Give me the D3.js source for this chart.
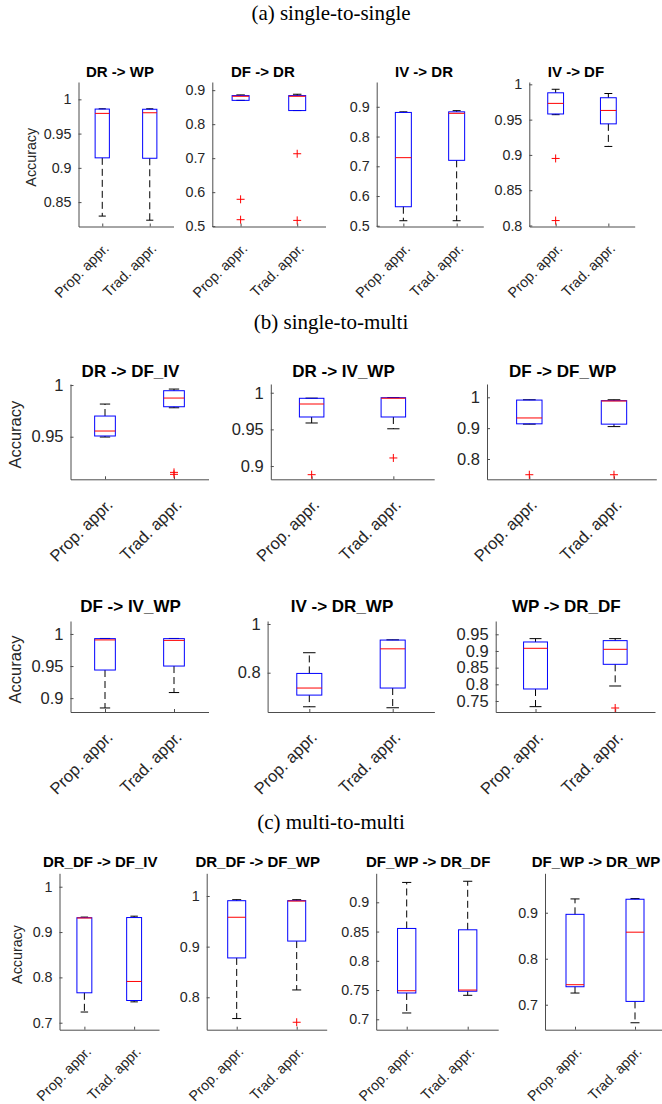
<!DOCTYPE html>
<html>
<head>
<meta charset="utf-8">
<script src="https://cdn.jsdelivr.net/npm/d3@7"></script>
<style>
  html, body { margin: 0; padding: 0; background: #fff; }
  svg { display: block; }
</style>
</head>
<body>
<script>
// ---------------- DATA ----------------
const sectionTitles = ["(a) single-to-single", "(b) single-to-multi", "(c) multi-to-multi"];
const categories = ["Prop. appr.", "Trad. appr."];
const panelTitles = ["DR -> WP", "DF -> DR", "IV -> DR", "IV -> DF",
  "DR -> DF_IV", "DR -> IV_WP", "DF -> DF_WP",
  "DF -> IV_WP", "IV -> DR_WP", "WP -> DR_DF",
  "DR_DF -> DF_IV", "DR_DF -> DF_WP", "DF_WP -> DR_DF", "DF_WP -> DR_WP"];
const yLabel = "Accuracy";

// [lower whisker, Q1, median, Q3, upper whisker]
const propStats = [
  [0.8296, 0.9146, 0.9795, 0.9858, 0.9862],
  [0.870, 0.870, 0.882, 0.884, 0.886],
  [0.517, 0.564, 0.729, 0.881, 0.883],
  [0.957, 0.958, 0.973, 0.988, 0.993],
  [0.9497, 0.9507, 0.9555, 0.970, 0.9816],
  [0.9587, 0.9669, 0.9846, 0.9924, 0.9926],
  [0.913, 0.914, 0.933, 0.991, 0.992],
  [0.8847, 0.9438, 0.9907, 0.9927, 0.993],
  [0.660, 0.708, 0.737, 0.797, 0.882],
  [0.733, 0.786, 0.908, 0.927, 0.937],
  [0.7236, 0.766, 0.931, 0.9316, 0.933],
  [0.758, 0.8777, 0.958, 0.9907, 0.9927],
  [0.7108, 0.745, 0.7488, 0.8553, 0.934],
  [0.7254, 0.7391, 0.7435, 0.8965, 0.930]
];
const tradStats = [
  [0.8236, 0.914, 0.9804, 0.9855, 0.9862],
  [0.840, 0.840, 0.882, 0.884, 0.888],
  [0.517, 0.720, 0.878, 0.883, 0.887],
  [0.912, 0.944, 0.963, 0.981, 0.987],
  [0.978, 0.979, 0.9874, 0.9945, 0.9961],
  [0.9508, 0.9669, 0.9925, 0.9932, 0.9934],
  [0.905, 0.913, 0.988, 0.989, 0.992],
  [0.9087, 0.950, 0.990, 0.9927, 0.993],
  [0.656, 0.737, 0.898, 0.934, 0.935],
  [0.795, 0.860, 0.905, 0.931, 0.937],
  [0.746, 0.749, 0.791, 0.932, 0.935],
  [0.8145, 0.911, 0.990, 0.9908, 0.9927],
  [0.741, 0.748, 0.750, 0.853, 0.936],
  [0.6608, 0.7072, 0.8577, 0.9293, 0.9307]
];
const propOutliers = [[], [0.579, 0.519], [], [0.895, 0.807], [], [0.8882], [0.749], [], [], [], [], [], [], []];
const tradOutliers = [[], [0.713, 0.517], [], [], [0.9155, 0.9136], [0.911], [0.749], [], [], [0.729], [], [0.7507], [], []];

// y-axis limits and tick values per panel
const yLimits = [
  [0.8144, 1.0253], [0.499, 0.924], [0.4976, 0.9833], [0.7986, 1.0033],
  [0.9088, 1.001], [0.8819, 1.0119], [0.7342, 1.0431],
  [0.8784, 1.0202], [0.6386, 1.0123], [0.717, 0.9899],
  [0.6846, 1.0296], [0.736, 1.0448], [0.6822, 0.9496], [0.6457, 0.9857]
];
const yTicks = [
  [0.85, 0.9, 0.95, 1], [0.5, 0.6, 0.7, 0.8, 0.9], [0.5, 0.6, 0.7, 0.8, 0.9], [0.8, 0.85, 0.9, 0.95, 1],
  [0.95, 1], [0.9, 0.95, 1], [0.8, 0.9, 1],
  [0.9, 0.95, 1], [0.8, 1], [0.75, 0.8, 0.85, 0.9, 0.95],
  [0.7, 0.8, 0.9, 1], [0.8, 0.9, 1], [0.7, 0.75, 0.8, 0.85, 0.9], [0.7, 0.8, 0.9]
];

// ---------------- LAYOUT ----------------
const W = 662, H = 1104;
const rows = [
  {top: 82, bottom: 226.5, tick: 14.3, title: 15, titleY: 76.5, titleDx: -6, labX: 31, xs: [[78.5,173.5],[212.3,325.5],[376.7,483.3],[529.3,634.7]]},
  {top: 384, bottom: 479.3, tick: 16.5, title: 17, titleY: 376.5, titleDx: -9, labX: 15, xs: [[70.5,208.5],[270.8,434.2],[487,656.3]]},
  {top: 621, bottom: 712, tick: 16.5, title: 17, titleY: 611.5, titleDx: -9, labX: 15, xs: [[70.5,208.5],[267.6,434.4],[495.7,655]]},
  {top: 873.3, bottom: 1029.7, tick: 14.3, title: 15, titleY: 866.5, titleDx: -9, labX: 17.3, xs: [[59.5,159],[206.7,326.7],[376.2,498.2],[545,665]]}
];
const sectionY = [20, 329, 829];

const svg = d3.select("body").append("svg").attr("width", W).attr("height", H);
const axisColor = "#4d4d4d";
const textColor = "#262626";
const sans = "'Liberation Sans', Arial, sans-serif";

svg.selectAll("text.section").data(sectionTitles).enter().append("text")
  .attr("class", "section")
  .attr("x", W / 2).attr("y", (d, i) => sectionY[i])
  .attr("text-anchor", "middle")
  .attr("font-family", "'Liberation Serif', 'Times New Roman', serif")
  .attr("font-size", 21).attr("fill", "#000")
  .text(d => d);

let p = 0;
rows.forEach((row, ri) => {
  row.xs.forEach((xr, ci) => {
    const idx = p++;
    const g = svg.append("g");
    const x = d3.scalePoint().domain(categories).range(xr).padding(0.5);
    const y = d3.scaleLinear().domain(yLimits[idx]).range([row.bottom, row.top]);
    const step = x.step();
    const bw = step * 0.3, cw = bw / 2;

    // axes
    const xa = g.append("g").attr("transform", `translate(0,${row.bottom})`)
      .call(d3.axisBottom(x).tickSizeInner(-3).tickSizeOuter(0));
    xa.selectAll("text")
      .attr("x", 0).attr("y", 0).attr("dy", "0.35em")
      .attr("text-anchor", "end")
      .attr("transform", `translate(${row.tick * 0.25},${row.tick * 1.35}) rotate(-45)`)
      .attr("font-size", row.tick);
    const ya = g.append("g").attr("transform", `translate(${xr[0]},0)`)
      .call(d3.axisLeft(y).tickValues(yTicks[idx]).tickFormat(d3.format("~g")).tickSizeInner(-3).tickSizeOuter(0).tickPadding(7));
    ya.selectAll("text").attr("font-size", row.tick);
    [xa, ya].forEach(a => {
      a.attr("font-family", sans);
      a.selectAll("path, line").attr("stroke", axisColor);
      a.selectAll("text").attr("fill", textColor);
    });

    // title
    g.append("text")
      .attr("x", (xr[0] + xr[1]) / 2 + row.titleDx).attr("y", row.titleY)
      .attr("text-anchor", "middle").attr("font-family", sans)
      .attr("font-weight", "bold").attr("font-size", row.title).attr("fill", "#000")
      .text(panelTitles[idx]);

    if (ci === 0) {
      g.append("text")
        .attr("transform", `translate(${row.labX},${(row.top + row.bottom) / 2 + 3}) rotate(-90)`)
        .attr("text-anchor", "middle").attr("dy", "0.35em")
        .attr("font-family", sans).attr("font-size", row.tick).attr("fill", textColor)
        .text(yLabel);
    }

    const boxes = [
      {cat: categories[0], s: propStats[idx], out: propOutliers[idx]},
      {cat: categories[1], s: tradStats[idx], out: tradOutliers[idx]}
    ];
    boxes.forEach(b => {
      const cx = x(b.cat);
      const [lo, q1, md, q3, hi] = b.s;
      const bg = g.append("g");
      // whiskers (dashed)
      bg.append("line").attr("x1", cx).attr("x2", cx).attr("y1", y(q3)).attr("y2", y(hi))
        .attr("stroke", "#000").attr("stroke-dasharray", "7,4");
      bg.append("line").attr("x1", cx).attr("x2", cx).attr("y1", y(q1)).attr("y2", y(lo))
        .attr("stroke", "#000").attr("stroke-dasharray", "7,4");
      // caps
      [lo, hi].forEach(v => bg.append("line")
        .attr("x1", cx - cw / 2).attr("x2", cx + cw / 2).attr("y1", y(v)).attr("y2", y(v))
        .attr("stroke", "#000"));
      // box
      bg.append("rect").attr("x", cx - bw / 2).attr("width", bw)
        .attr("y", y(q3)).attr("height", Math.max(0.5, y(q1) - y(q3)))
        .attr("fill", "none").attr("stroke", "#0000ff");
      // median
      bg.append("line").attr("x1", cx - bw / 2).attr("x2", cx + bw / 2)
        .attr("y1", y(md)).attr("y2", y(md)).attr("stroke", "#ff0000");
      // outliers
      b.out.forEach(v => {
        const oy = y(v);
        bg.append("path").attr("d", `M${cx - 4},${oy}H${cx + 4}M${cx},${oy - 4}V${oy + 4}`)
          .attr("stroke", "#ff0000").attr("fill", "none");
      });
    });
  });
});
</script>
</body>
</html>
